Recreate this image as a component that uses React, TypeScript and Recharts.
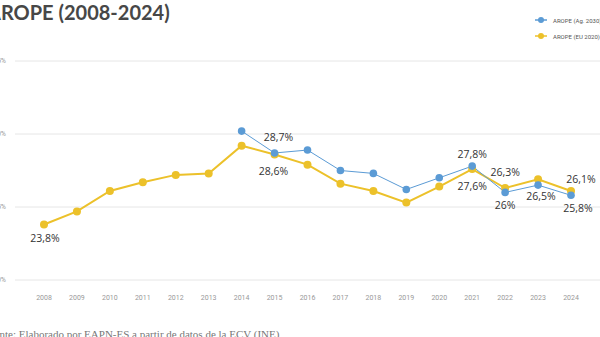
import React from 'react';
import { LineChart, Line, XAxis, YAxis, CartesianGrid, LabelList } from 'recharts';

const years = [2008, 2009, 2010, 2011, 2012, 2013, 2014, 2015, 2016, 2017, 2018, 2019, 2020, 2021, 2022, 2023, 2024];
const aropeEU2020 = [23.8, 24.7, 26.1, 26.7, 27.2, 27.3, 29.2, 28.6, 27.9, 26.6, 26.1, 25.3, 26.4, 27.6, 26.3, 26.9, 26.1];
const aropeAg2030: (number | null)[] = [null, null, null, null, null, null, 30.2, 28.7, 28.9, 27.5, 27.3, 26.2, 27.0, 27.8, 26.0, 26.5, 25.8];
const yTicks = [20, 25, 30, 35];
const labeledEU = [2008, 2015, 2021, 2022, 2024];
const labeledAg = [2015, 2021, 2022, 2023, 2024];
const titleText = 'AROPE (2008-2024)';
const seriesAgName = 'AROPE (Ag. 2030)';
const seriesEUName = 'AROPE (EU 2020)';
const sourceText = 'Fuente: Elaborado por EAPN-ES a partir de datos de la ECV (INE)';

const data = years.map((y, i) => ({ year: y, eu: aropeEU2020[i], ag: aropeAg2030[i] }));

const BLUE = '#5b9bd5';
const YELLOW = '#ecc12a';

const fmt = (v: number) => String(v).replace('.', ',') + '%';

// placement (dx, dy) of value labels relative to the point
const euPlace: Record<number, [number, number]> = {
  2008: [1, 13], 2015: [-1, 17], 2021: [0, 17], 2022: [0, -16], 2024: [10, -12],
};
const agPlace: Record<number, [number, number]> = {
  2015: [4, -16], 2021: [0, -12], 2022: [0, 13], 2023: [3, 11], 2024: [7, 13],
};

const makeLabel = (labeled: number[], place: Record<number, [number, number]>) => (props: any) => {
  const { x, y, value, index } = props;
  const yr = years[index];
  if (value == null || !labeled.includes(yr)) return null;
  const [dx, dy] = place[yr] || [0, -12];
  return (
    <text x={x + dx} y={y + dy} textAnchor="middle" dominantBaseline="central"
      fontSize={10.5} fontFamily="'Open Sans', sans-serif" fill="#333">
      {fmt(value)}
    </text>
  );
};

export default function App() {
  return (
    <div style={{ position: 'absolute', left: 0, top: 0, width: 600, height: 337, overflow: 'hidden', background: '#fff' }}>
      <div style={{ position: 'absolute', left: -13, top: 0, fontFamily: 'Lato, sans-serif', fontWeight: 700, fontSize: 20, lineHeight: '24px', color: '#474747', whiteSpace: 'nowrap' }}>
        {titleText}
      </div>
      <div style={{ position: 'absolute', left: 535, top: 12, fontFamily: 'Roboto, sans-serif', fontSize: 6, color: '#555', whiteSpace: 'nowrap' }}>
        {[{ n: seriesAgName, c: BLUE }, { n: seriesEUName, c: YELLOW }].map((it, i) => (
          <div key={i} style={{ display: 'flex', alignItems: 'center', height: 16 }}>
            <svg width={12} height={8} style={{ marginRight: 6 }}>
              <line x1={0} y1={4} x2={12} y2={4} stroke={it.c} strokeWidth={1.5} />
              <circle cx={6} cy={4} r={3} fill={it.c} />
            </svg>
            <span>{it.n}</span>
          </div>
        ))}
      </div>
      <div style={{ position: 'absolute', left: -17, top: 328, fontFamily: "'Liberation Serif', serif", fontSize: 11, lineHeight: '13px', color: '#777', whiteSpace: 'nowrap' }}>
        {sourceText}
      </div>
      <div style={{ position: 'absolute', left: 0, top: 0 }}>
        <LineChart width={600} height={337} data={data} margin={{ top: 61, right: 0, bottom: 27, left: 0 }}>
          <CartesianGrid vertical={false} stroke="#e6e6e6" />
          <XAxis dataKey="year" type="number" domain={[2008, 2024]} ticks={years} interval={0}
            padding={{ left: 29, right: 29 }} axisLine={false} tickLine={false} height={30} tickMargin={9}
            tick={{ fontSize: 7, fill: '#999', fontFamily: 'Roboto, sans-serif' }} />
          <YAxis domain={[20, 35]} ticks={yTicks} width={15} axisLine={false} tickLine={false} tickMargin={3}
            tickFormatter={(v: number) => v + '%'}
            tick={{ fontSize: 7, fill: '#999', fontFamily: 'Roboto, sans-serif' }} />
          <Line type="linear" dataKey="eu" name={seriesEUName} stroke={YELLOW} strokeWidth={2}
            dot={{ r: 4, fill: YELLOW, stroke: YELLOW, strokeWidth: 0 }} isAnimationActive={false}>
            <LabelList dataKey="eu" content={makeLabel(labeledEU, euPlace)} />
          </Line>
          <Line type="linear" dataKey="ag" name={seriesAgName} stroke={BLUE} strokeWidth={1}
            dot={{ r: 3.8, fill: BLUE, stroke: BLUE, strokeWidth: 0 }} isAnimationActive={false} connectNulls={false}>
            <LabelList dataKey="ag" content={makeLabel(labeledAg, agPlace)} />
          </Line>
        </LineChart>
      </div>
    </div>
  );
}
